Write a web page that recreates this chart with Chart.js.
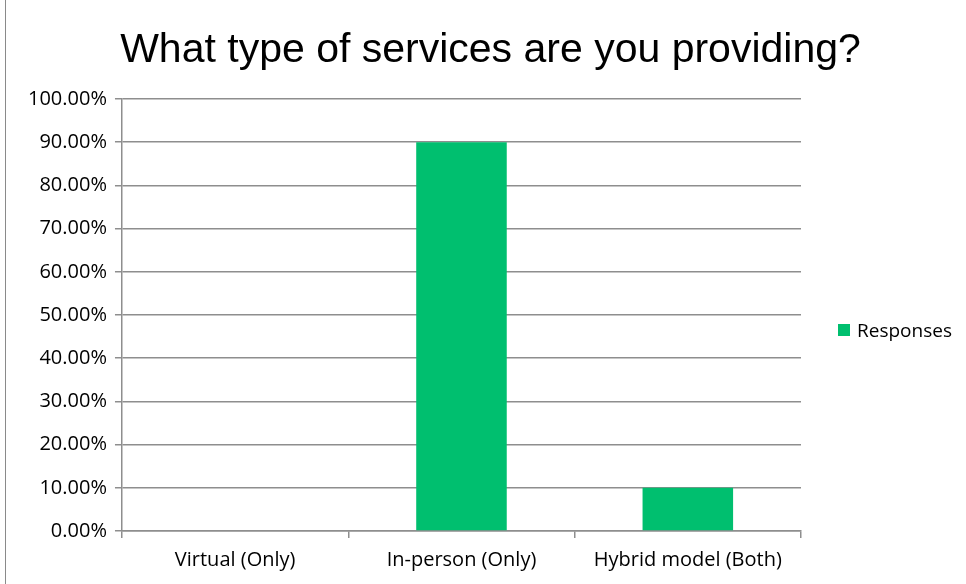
<!DOCTYPE html>
<html>
<head>
<meta charset="utf-8">
<script src="https://cdn.jsdelivr.net/npm/chart.js@4.4.0/dist/chart.umd.min.js"></script>
<style>
  html, body { margin: 0; padding: 0; background: #fff; }
  #wrap { position: relative; width: 966px; height: 584px; overflow: hidden; }
  #frame { position: absolute; left: 5px; top: 0; width: 1px; height: 584px; background: #8a8a8a; }
  #title {
    position: absolute; left: 0; top: 25px; width: 981px; text-align: center;
    font-family: "Liberation Sans", Arial, sans-serif; font-size: 41px; color: #000;
  }
  #legend {
    position: absolute; left: 838px; top: 317px;
    font-family: "Open Sans", sans-serif; font-size: 19px; color: #000;
    display: flex; align-items: center;
  }
  #legend .sw { width: 12px; height: 12px; background: #00BF6F; margin-right: 7px; }
  canvas { position: absolute; left: 0; top: 0; }
</style>
</head>
<body>
<div id="wrap">
  <div id="frame"></div>
  <canvas id="chart" width="966" height="584"></canvas>
  <div id="title">What type of services are you providing?</div>
  <div id="legend"><span class="sw"></span><span id="legendText"></span></div>
</div>
<script>
const categories = ["Virtual (Only)", "In-person (Only)", "Hybrid model (Both)"];
const seriesName = "Responses";
const responses = [0, 90, 10];
const yTicks = [0, 10, 20, 30, 40, 50, 60, 70, 80, 90, 100];

const barColor = "#00BF6F";
const axisColor = "#8E8E8E";
const tickFont = { family: "Open Sans", size: 20 };

document.getElementById("legendText").textContent = seriesName;

const ctx = document.getElementById("chart").getContext("2d");
new Chart(ctx, {
  type: "bar",
  data: {
    labels: categories,
    datasets: [{
      label: seriesName,
      data: responses,
      backgroundColor: barColor,
      borderWidth: 0,
      categoryPercentage: 1,
      barPercentage: 0.4
    }]
  },
  options: {
    responsive: false,
    animation: false,
    layout: { padding: { top: 99, right: 165, bottom: 2, left: 20 } },
    plugins: {
      legend: { display: false },
      tooltip: { enabled: false }
    },
    scales: {
      x: {
        grid: {
          offset: true,
          drawOnChartArea: false,
          drawTicks: true,
          tickLength: 7,
          color: axisColor,
          lineWidth: 1.5
        },
        border: { color: axisColor, width: 1.5 },
        ticks: { color: "#000", font: tickFont, padding: 10 }
      },
      y: {
        min: 0,
        max: 100,
        afterBuildTicks: (axis) => { axis.ticks = yTicks.map(v => ({ value: v })); },
        grid: { color: axisColor, lineWidth: 1.5, tickLength: 7 },
        border: { color: axisColor, width: 1.5 },
        ticks: {
          color: "#000",
          font: tickFont,
          padding: 8,
          callback: (v) => v.toFixed(2) + "%"
        }
      }
    }
  }
});
</script>
</body>
</html>
